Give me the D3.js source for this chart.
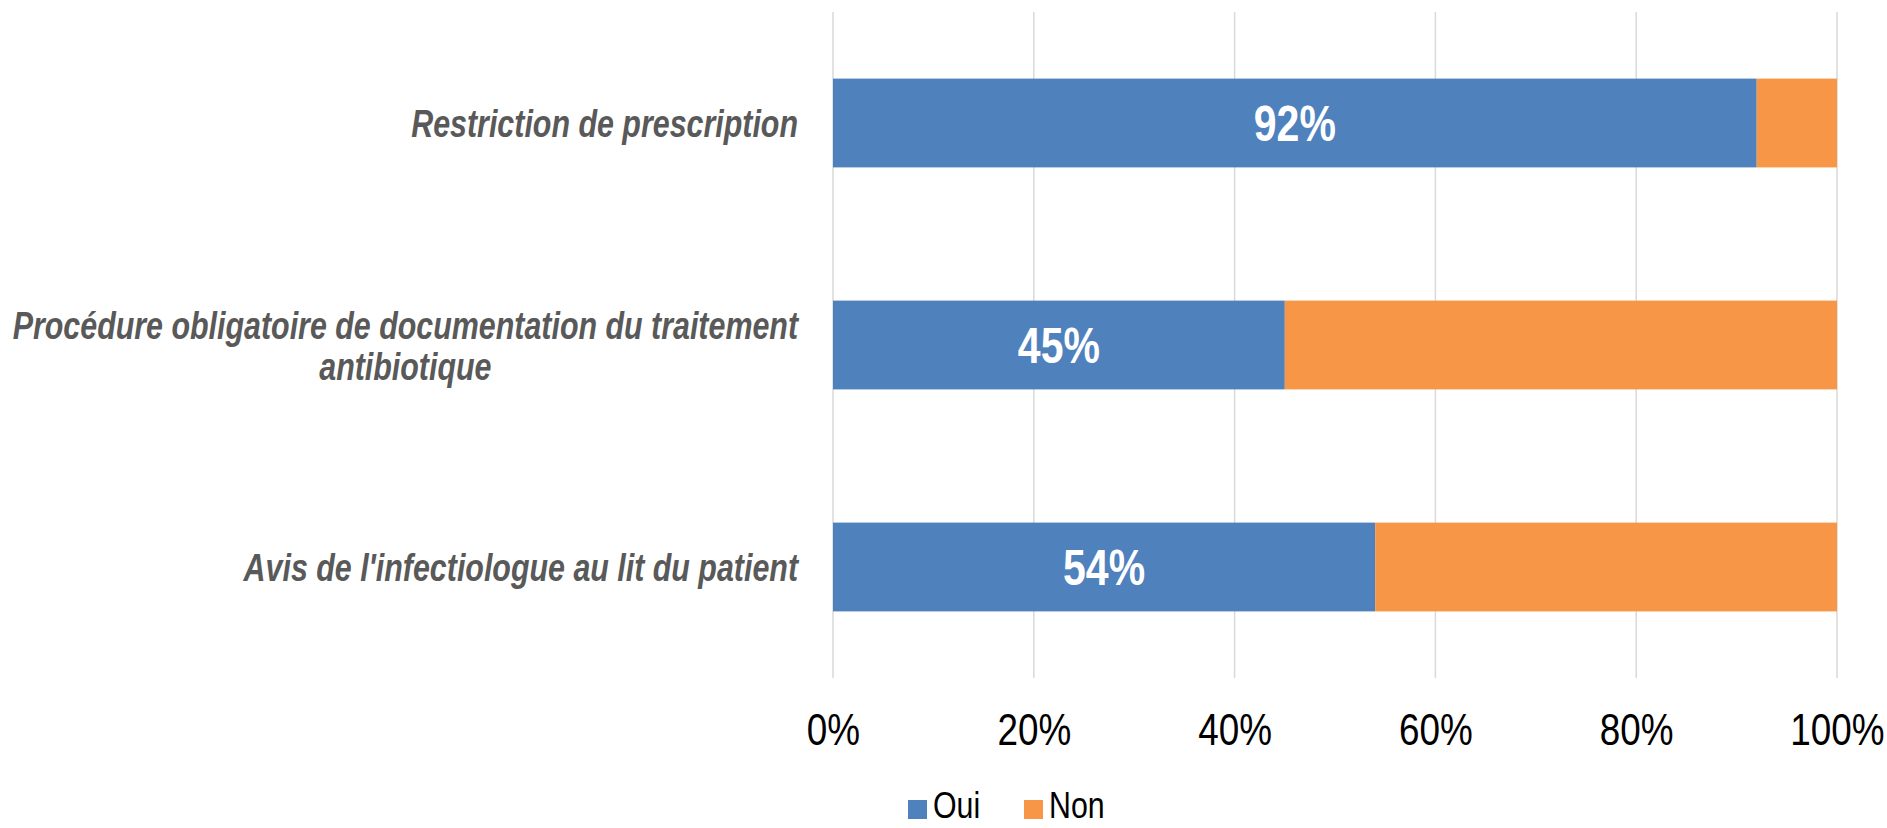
<!DOCTYPE html>
<html>
<head>
<meta charset="utf-8">
<script src="https://cdn.jsdelivr.net/npm/d3@7"></script>
<style>
  body { margin: 0; background: #fff; }
  text { font-family: "Liberation Sans", Arial, sans-serif; }
</style>
</head>
<body>
<div id="chart"></div>
<script>
// data
var categories = [
  "Restriction de prescription",
  "Procédure obligatoire de documentation du traitement|antibiotique",
  "Avis de l'infectiologue au lit du patient"
];
var oui = [92, 45, 54];
var non = [8, 55, 46];
var seriesNames = ["Oui", "Non"];
var xTicks = [0, 20, 40, 60, 80, 100];

var svgWidth = 1887;
var svgHeight = 828;
var margin = { top: 12, right: 50, bottom: 150, left: 833 };
var width = svgWidth - margin.left - margin.right;
var height = svgHeight - margin.top - margin.bottom;

var colors = { Oui: "#4F81BD", Non: "#F79646" };
// the original uses a narrow font, so squeeze text horizontally
var narrow = 0.82;

var svg = d3.select("#chart")
  .append("svg")
  .attr("width", svgWidth)
  .attr("height", svgHeight);

var chartGroup = svg.append("g")
  .attr("transform", `translate(${margin.left}, ${margin.top})`);

var xScale = d3.scaleLinear().domain([0, 100]).range([0, width]);
var yScale = d3.scaleBand()
  .domain(categories)
  .range([0, height])
  .paddingInner(0.6)
  .paddingOuter(0.3);

// gridlines
chartGroup.selectAll(".grid")
  .data(xTicks)
  .enter()
  .append("line")
  .attr("x1", d => xScale(d))
  .attr("x2", d => xScale(d))
  .attr("y1", 0)
  .attr("y2", height)
  .attr("stroke", "#D9D9D9")
  .attr("stroke-width", 1.5);

// x axis tick labels
var bottomAxis = d3.axisBottom(xScale)
  .tickValues(xTicks)
  .tickFormat(d => d + "%")
  .tickSize(0)
  .tickPadding(34);

var xAxis = chartGroup.append("g")
  .attr("transform", `translate(0, ${height})`)
  .call(bottomAxis);
xAxis.select(".domain").remove();
xAxis.selectAll("text")
  .attr("font-size", 45)
  .attr("fill", "#000")
  .attr("font-family", null)
  .attr("dy", null)
  .attr("y", 67)
  .attr("transform", `scale(${narrow},1)`);

// stacked bars
var rows = categories.map((c, i) => ({ cat: c, Oui: oui[i], Non: non[i] }));
var stack = d3.stack().keys(seriesNames)(rows);

chartGroup.selectAll(".series")
  .data(stack)
  .enter()
  .append("g")
  .attr("fill", d => colors[d.key])
  .selectAll("rect")
  .data(d => d)
  .enter()
  .append("rect")
  .attr("x", d => xScale(d[0]))
  .attr("width", d => xScale(d[1]) - xScale(d[0]))
  .attr("y", d => yScale(d.data.cat))
  .attr("height", yScale.bandwidth());

// data labels on Oui
chartGroup.selectAll(".valueText")
  .data(rows)
  .enter()
  .append("g")
  .attr("transform", d => `translate(${xScale(d.Oui / 2)}, ${yScale(d.cat) + yScale.bandwidth() / 2 + 18}) scale(${narrow},1)`)
  .append("text")
  .attr("text-anchor", "middle")
  .attr("font-size", 50)
  .attr("font-weight", "bold")
  .attr("fill", "#fff")
  .text(d => d.Oui + "%");

// category labels
var labelRight = -35;
var lineH = 41;
categories.forEach(function(c) {
  var lines = c.split("|");
  var cy = yScale(c) + yScale.bandwidth() / 2;
  var g = chartGroup.append("g")
    .attr("transform", `translate(${labelRight}, ${cy + 14}) scale(0.8,1)`);
  var t = g.append("text")
    .attr("font-size", 38)
    .attr("font-weight", "bold")
    .attr("font-style", "italic")
    .attr("fill", "#595959")
    .attr("text-anchor", lines.length > 1 ? "middle" : "end");
  if (lines.length === 1) {
    t.text(c);
  } else {
    var tmp = t.append("tspan").text(lines[0]);
    var w = tmp.node().getComputedTextLength();
    tmp.remove();
    lines.forEach(function(l, i) {
      t.append("tspan")
        .attr("x", -w / 2)
        .attr("y", (i - (lines.length - 1) / 2) * lineH)
        .text(l);
    });
  }
});

// legend
var legend = svg.append("g")
  .attr("transform", "translate(908, 800)");
var legendX = [0, 116];
seriesNames.forEach(function(s, i) {
  var g = legend.append("g").attr("transform", `translate(${legendX[i]}, 0)`);
  g.append("rect")
    .attr("width", 19)
    .attr("height", 19)
    .attr("fill", colors[s]);
  g.append("g")
    .attr("transform", `translate(25, 18) scale(0.82,1)`)
    .append("text")
    .attr("font-size", 37)
    .attr("fill", "#000")
    .text(s);
});
</script>
</body>
</html>
